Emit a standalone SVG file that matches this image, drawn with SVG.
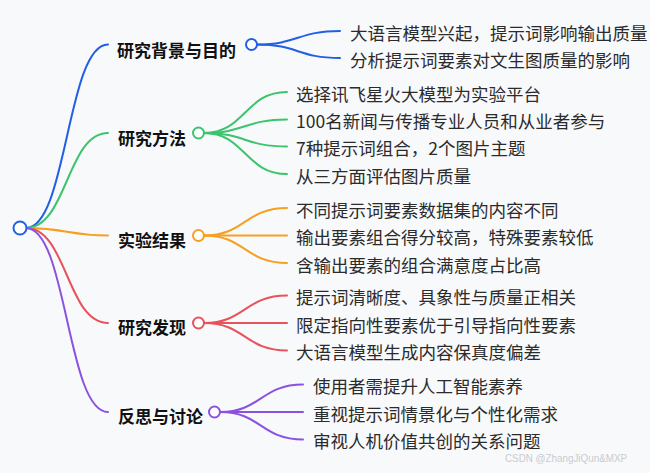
<svg xmlns="http://www.w3.org/2000/svg" width="650" height="473" viewBox="0 0 650 473">
<style>
.bg{fill:#f8f9fb}
.ln{fill:none;stroke-width:2;stroke-linecap:round}
.dot{fill:#ffffff;stroke-width:2}
.lbl{font-family:"Noto Sans CJK SC","Noto Sans",sans-serif;font-size:17px;font-weight:bold;fill:#111111}
.leaf{font-family:"Noto Sans CJK SC","Noto Sans",sans-serif;font-size:17.5px;fill:#2b2b2b}
.b{stroke:#2160e4}.g{stroke:#3cc46d}.o{stroke:#f6a021}.r{stroke:#e8525c}.p{stroke:#8b52e0}
.wm{font-family:"Liberation Sans","Noto Sans",sans-serif;font-size:11px;fill:#c9cbcf}
</style>
<rect class="bg" x="0" y="0" width="650" height="473"/>
<g id="connectors">
<path class="ln b" d="M26,228 C67,228 67,44.5 108,44.5"/>
<path class="ln g" d="M26,228 C67,228 67,133 108,133"/>
<path class="ln o" d="M26,228 C67,228 67,235.5 108,235.5"/>
<path class="ln r" d="M26,228 C67,228 67,323 108,323"/>
<path class="ln p" d="M26,228 C67,228 67,412 108,412"/>
<path class="ln b" d="M257,44.5 C298,44.5 298,31 340,31"/>
<path class="ln b" d="M257,44.5 C298,44.5 298,58 340,58"/>
<path class="ln g" d="M204,133 C245,133 245,92 287,92"/>
<path class="ln g" d="M204,133 C245,133 245,119.5 287,119.5"/>
<path class="ln g" d="M204,133 C245,133 245,146.5 287,146.5"/>
<path class="ln g" d="M204,133 C245,133 245,174 287,174"/>
<path class="ln o" d="M204,235.5 C245,235.5 245,208 287,208"/>
<path class="ln o" d="M204,235.5 L287,235.5"/>
<path class="ln o" d="M204,235.5 C245,235.5 245,263 287,263"/>
<path class="ln r" d="M204,323 C245,323 245,295.5 287,295.5"/>
<path class="ln r" d="M204,323 L287,323"/>
<path class="ln r" d="M204,323 C245,323 245,350.5 287,350.5"/>
<path class="ln p" d="M220,412 C261,412 261,384.5 303,384.5"/>
<path class="ln p" d="M220,412 L303,412"/>
<path class="ln p" d="M220,412 C261,412 261,439.5 303,439.5"/>
</g>
<g id="root"><circle class="dot b" cx="20" cy="228" r="6.5"/></g>
<g id="n1">
<text class="lbl" x="117" y="56.5">研究背景与目的</text>
<circle class="dot b" cx="251.5" cy="44.5" r="5.5"/>
</g>
<g id="n1a"><text class="leaf" x="350" y="39.5">大语言模型兴起，提示词影响输出质量</text></g>
<g id="n1b"><text class="leaf" x="350" y="66.5">分析提示词要素对文生图质量的影响</text></g>
<g id="n2">
<text class="lbl" x="118" y="144.5">研究方法</text>
<circle class="dot g" cx="198.5" cy="133" r="5.5"/>
</g>
<g id="n2a"><text class="leaf" x="296" y="100.5">选择讯飞星火大模型为实验平台</text></g>
<g id="n2b"><text class="leaf" x="296" y="128">100名新闻与传播专业人员和从业者参与</text></g>
<g id="n2c"><text class="leaf" x="296" y="155">7种提示词组合，2个图片主题</text></g>
<g id="n2d"><text class="leaf" x="296" y="182.5">从三方面评估图片质量</text></g>
<g id="n3">
<text class="lbl" x="118" y="247">实验结果</text>
<circle class="dot o" cx="198.5" cy="235.5" r="5.5"/>
</g>
<g id="n3a"><text class="leaf" x="296" y="216.5">不同提示词要素数据集的内容不同</text></g>
<g id="n3b"><text class="leaf" x="296" y="244">输出要素组合得分较高，特殊要素较低</text></g>
<g id="n3c"><text class="leaf" x="296" y="271.5">含输出要素的组合满意度占比高</text></g>
<g id="n4">
<text class="lbl" x="118" y="334">研究发现</text>
<circle class="dot r" cx="198.5" cy="323" r="5.5"/>
</g>
<g id="n4a"><text class="leaf" x="296" y="304">提示词清晰度、具象性与质量正相关</text></g>
<g id="n4b"><text class="leaf" x="296" y="331.5">限定指向性要素优于引导指向性要素</text></g>
<g id="n4c"><text class="leaf" x="296" y="359">大语言模型生成内容保真度偏差</text></g>
<g id="n5">
<text class="lbl" x="118" y="423">反思与讨论</text>
<circle class="dot p" cx="214.5" cy="412" r="5.5"/>
</g>
<g id="n5a"><text class="leaf" x="313" y="393">使用者需提升人工智能素养</text></g>
<g id="n5b"><text class="leaf" x="313" y="420.5">重视提示词情景化与个性化需求</text></g>
<g id="n5c"><text class="leaf" x="313" y="448">审视人机价值共创的关系问题</text></g>
<text class="wm" x="505" y="462" textLength="122" lengthAdjust="spacingAndGlyphs">CSDN @ZhangJiQun&amp;MXP</text>
</svg>
